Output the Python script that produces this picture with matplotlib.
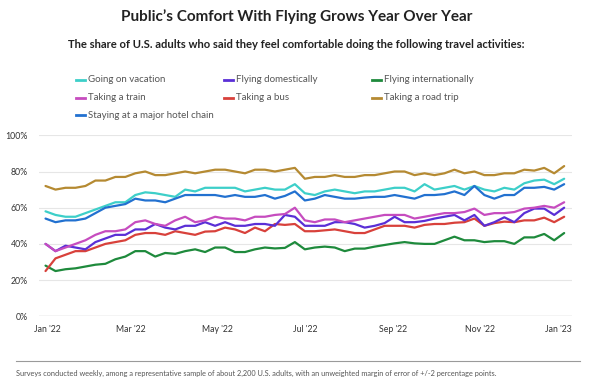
import matplotlib
matplotlib.use("Agg")
import matplotlib.pyplot as plt
from matplotlib.lines import Line2D
import matplotlib.transforms as mtransforms
import pandas as pd

plt.rcParams['font.family'] = ['Lato', 'DejaVu Sans']

dates = pd.date_range("2021-12-31", periods=53, freq="7D")

vacation = [58,56,55,55,57,59,61,63,63,67,68.5,68,67,66,70,69,71,71,71,71,69,70,71,70,70,73,
            68,67,69,70,69,68,69,69,70,71,71,69,73,70,71,72,70,72,70,69,71,70,73.5,75,75.5,73,76]
domestic = [40,36,39,38,37,41,43,45,45,48,48,51,49,48,50,50,52,50,52,50,50,51,51,50,56,55,
            50,50,50,52,52,51,49,50,51.5,55,52,52,52.7,54,55,56,53,56,50,52,54.7,52,57,59.5,59.5,56,60]
international = [28,25,26,26.5,27.5,28.5,29,31.5,33,36,36,33,35,34.5,36,37,35.5,38,38,35.5,35.5,37,38,37.5,37.8,41,
                 37,38,38.5,38,36,37.4,37.4,38.5,39.4,40.3,41,40.3,40,40,42,44,42,42,41,41.5,41.5,40,43.6,43.6,45.5,42,46]
train = [40,36,38,40,42,45,47,47,48,52,53,51,50,53,55,52,53,55,54,54,53,55,55,56,56.5,60,
         53,52,53.5,53.5,52,53,54,55,56,56,56,54,55,56,57,57,57.6,59.5,56,57,57,57.6,59.5,60,61,60,63]
bus = [25,32,34,36,36,38,40,41,42,45,46,46,45,47,46,45,46.8,47,49,48,46,49,47,51,50.5,51,
       47,47,47.5,48,47,46,46,48,50,50,50,49,50.5,51,51,51.7,52,54,50,51.5,52.3,52,53,53,54.5,52,55]
road_trip = [72,70,71,71,72,75,75,77,77,79,80,78,78,79,80,79,80,81,81,80,79,81,81,80,81,82,
             76,77,77,78,77,77,78,78,79,80,80,78,79,78,79,81,79,80,78,78,79,79,81,80.5,82,79,83]
hotel = [54,52,53,53,54,57,60,61,62,65,64,64,63,65,67,67,67,67,66,67,66,66,67,65,66.5,69,
         64,65,67,66,65,65,65.6,66,66,67,66,65,67,67,67.5,69,67,72,67,65,67,67,71,71,71.5,70,73]

series_names = ["Going on vacation", "Flying domestically", "Flying internationally",
                "Taking a train", "Taking a bus", "Taking a road trip",
                "Staying at a major hotel chain"]
series_values = [vacation, domestic, international, train, bus, road_trip, hotel]
colors = ["#3dcfc9", "#5a2fd6", "#1e8a3c", "#c64cbf", "#d8413b", "#b58a32", "#2271d0"]

tick_dates = pd.to_datetime(["2022-01-01", "2022-03-01", "2022-05-01", "2022-07-01",
                             "2022-09-01", "2022-11-01", "2023-01-01"])
tick_labels = ["Jan '22", "Mar '22", "May '22", "Jul '22", "Sep '22", "Nov '22", "Jan '23"]
y_ticks = [0, 20, 40, 60, 80, 100]

W, H = 593, 390
fig = plt.figure(figsize=(W/100, H/100), dpi=100)
fig.patch.set_facecolor("white")

def fx(x): return x / W
def fy(y): return 1 - y / H

ax = fig.add_axes([fx(39), fy(316.3), fx(572) - fx(39), fy(135.3) - fy(316.3)])
draw_order = [2, 4, 1, 3, 0, 6, 5]
for i in draw_order:
    ax.plot(dates, series_values[i], color=colors[i], lw=1.6, solid_joinstyle='round',
            solid_capstyle='round', zorder=3)

ax.set_ylim(0, 100)
ax.set_xlim(pd.Timestamp("2021-12-26 10:00"), pd.Timestamp("2023-01-04 12:00"))
ax.set_yticks(y_ticks)
ax.set_yticklabels([f"{v}%" for v in y_ticks])
ax.set_xticks(tick_dates)
ax.set_xticklabels(tick_labels)
ax.grid(axis='y', color="#e6e6e6", lw=0.8, zorder=0)
ax.axhline(0, color="#cfcfcf", lw=1, zorder=1)
for s in ax.spines.values():
    s.set_visible(False)
ax.tick_params(axis='both', length=0, labelsize=6.3, colors="#333333")
ax.tick_params(axis='y', pad=8)
ax.tick_params(axis='x', pad=6)
lbls = ax.get_xticklabels()
lbls[-1].set_ha('right')
lbls[-1].set_transform(lbls[-1].get_transform() + mtransforms.ScaledTranslation(5/100, 0, fig.dpi_scale_trans))

fig.text(0.5, fy(17), "Public\u2019s Comfort With Flying Grows Year Over Year",
         ha='center', va='center', fontsize=11, fontweight='bold', color="#222222")
fig.text(0.5, fy(45), "The share of U.S. adults who said they feel comfortable doing the following travel activities:",
         ha='center', va='center', fontsize=8.1, fontweight='bold', color="#222222")

leg_pos = [(76, 80), (224, 80), (372, 80), (76, 98), (224, 98), (372, 98), (76, 115)]
for (lx, ly), name, c in zip(leg_pos, series_names, colors):
    fig.add_artist(Line2D([fx(lx), fx(lx + 9)], [fy(ly), fy(ly)], color=c, lw=2,
                          transform=fig.transFigure))
    fig.text(fx(lx + 12), fy(ly), name, ha='left', va='center', fontsize=7.0, color="#555555")

fig.add_artist(Line2D([fx(16), fx(580)], [fy(361), fy(361)], color="#9a9a9a", lw=0.8,
                      transform=fig.transFigure))
fig.text(fx(16), fy(373), "Surveys conducted weekly, among a representative sample of about 2,200 U.S. adults, with an unweighted margin of error of +/-2 percentage points.",
         ha='left', va='center', fontsize=5.3, color="#555555")

fig.savefig("out.png", dpi=100, facecolor="white")
